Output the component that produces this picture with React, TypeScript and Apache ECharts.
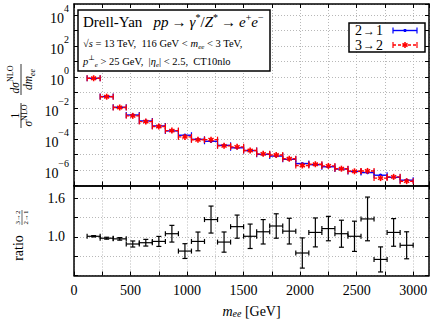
import React, { useEffect, useRef } from 'react';
import * as echarts from 'echarts';

// Bin edges in m_ee [GeV]
const binEdges = [116, 231.4, 346.7, 462.1, 577.4, 692.8, 808.2, 923.5, 1038.9, 1154.2, 1269.6, 1385, 1500.3, 1615.7, 1731, 1846.4, 1961.8, 2077.1, 2192.5, 2307.8, 2423.2, 2538.6, 2653.9, 2769.3, 2884.6, 3000];
// 1/sigma dsigma/dm_ee for the "2 -> 1" and "3 -> 2" results
const xsec21 = [0.81, 0.054, 0.011, 3.5e-3, 1.45e-3, 6.9e-4, 3.3e-4, 1.74e-4, 9.5e-5, 7.1e-5, 3.9e-5, 2.7e-5, 1.78e-5, 1.02e-5, 7.9e-6, 4.9e-6, 2.6e-6, 2.2e-6, 1.62e-6, 1.15e-6, 8.1e-7, 6.8e-7, 4.6e-7, 3.4e-7, 2.2e-7];
const xsec32 = [0.82, 0.053, 0.0107, 3.1e-3, 1.32e-3, 6.4e-4, 3.47e-4, 1.36e-4, 8.8e-5, 9.0e-5, 3.6e-5, 3.1e-5, 1.8e-5, 1.1e-5, 9.2e-6, 5.3e-6, 1.95e-6, 2.35e-6, 1.83e-6, 1.21e-6, 8.2e-7, 8.7e-7, 3.0e-7, 3.6e-7, 1.9e-7];
// ratio (3->2)/(2->1) and its uncertainty
const ratio = [1.01, 0.98, 0.97, 0.89, 0.91, 0.93, 1.05, 0.78, 0.93, 1.27, 0.92, 1.16, 1.01, 1.08, 1.17, 1.09, 0.75, 1.07, 1.13, 1.05, 1.01, 1.28, 0.65, 1.07, 0.87];
const ratioErr = [0.01, 0.015, 0.02, 0.047, 0.052, 0.078, 0.13, 0.115, 0.146, 0.21, 0.157, 0.18, 0.19, 0.19, 0.19, 0.2, 0.235, 0.225, 0.19, 0.21, 0.235, 0.34, 0.195, 0.215, 0.21];
// axis tick labels
const xLabels = [0, 500, 1000, 1500, 2000, 2500, 3000];
const yTopLabelExps = [-6, -4, -2, 0, 2, 4];
const yRatioLabels = [1.0, 1.6];

const SERIF = '"Liberation Serif", "DejaVu Serif", "Times New Roman", serif';
const BLUE = '#0000ff';
const RED = '#ff0000';

function asterisk(cx: number, cy: number, r: number, color: string) {
  const out: any[] = [];
  for (let k = 0; k < 3; k++) {
    const a = Math.PI / 2 + (k * Math.PI) / 3;
    out.push({
      type: 'line',
      shape: { x1: cx - r * Math.cos(a), y1: cy - r * Math.sin(a), x2: cx + r * Math.cos(a), y2: cy + r * Math.sin(a) },
      style: { stroke: color, lineWidth: 1.6 },
    });
  }
  return out;
}

function binMarks(a: number[], b: number[], color: string, dashed: boolean, star: boolean) {
  const xm = (a[0] + b[0]) / 2;
  const y = a[1];
  const children: any[] = [
    { type: 'line', shape: { x1: a[0], y1: y, x2: b[0], y2: y }, style: { stroke: color, lineWidth: 1.4, lineDash: dashed ? [3, 2] : null } },
    { type: 'line', shape: { x1: a[0], y1: y - 3, x2: a[0], y2: y + 3 }, style: { stroke: color, lineWidth: 1.2 } },
    { type: 'line', shape: { x1: b[0], y1: y - 3, x2: b[0], y2: y + 3 }, style: { stroke: color, lineWidth: 1.2 } },
  ];
  if (star) children.push(...asterisk(xm, y, 3, color));
  else children.push({ type: 'circle', shape: { cx: xm, cy: y, r: 1.6 }, style: { fill: color } });
  return children;
}

const topRender = (color: string, dashed: boolean, star: boolean) => (params: any, api: any) => {
  const x0 = api.value(0), x1 = api.value(1), y = api.value(2);
  const a = api.coord([x0, y]);
  const b = api.coord([x1, y]);
  return { type: 'group', children: binMarks(a, b, color, dashed, star) };
};

const ratioRender = (params: any, api: any) => {
  const x0 = api.value(0), x1 = api.value(1), r = api.value(2), lo = api.value(3), hi = api.value(4);
  const a = api.coord([x0, r]);
  const b = api.coord([x1, r]);
  const xm = (a[0] + b[0]) / 2;
  const pl = api.coord([(x0 + x1) / 2, lo]);
  const ph = api.coord([(x0 + x1) / 2, hi]);
  const st = { stroke: '#000', lineWidth: 1.2 };
  const c = 2.5;
  return {
    type: 'group',
    children: [
      { type: 'line', shape: { x1: a[0], y1: a[1], x2: b[0], y2: b[1] }, style: st },
      { type: 'line', shape: { x1: xm, y1: pl[1], x2: xm, y2: ph[1] }, style: st },
      { type: 'line', shape: { x1: a[0], y1: a[1] - c, x2: a[0], y2: a[1] + c }, style: st },
      { type: 'line', shape: { x1: b[0], y1: b[1] - c, x2: b[0], y2: b[1] + c }, style: st },
      { type: 'line', shape: { x1: xm - c, y1: pl[1], x2: xm + c, y2: pl[1] }, style: st },
      { type: 'line', shape: { x1: xm - c, y1: ph[1], x2: xm + c, y2: ph[1] }, style: st },
    ],
  };
};

function richSet(size: number, lhOverride?: number) {
  const lh = lhOverride ?? Math.round(size * 1.35);
  const s = Math.round(size * 0.68);
  return {
    r: { fontFamily: SERIF, fontSize: size, lineHeight: lh, verticalAlign: 'middle', fill: '#000', color: '#000' },
    ar: { fontFamily: SERIF, fontSize: size, lineHeight: lh, verticalAlign: 'middle', fill: '#000', color: '#000', padding: [0, 3, 0, 3] },
    la: { fontFamily: SERIF, fontSize: Math.round(size * 0.85), lineHeight: lh, verticalAlign: 'middle', fill: '#000', color: '#000', padding: [0, 1, 0, 1] },
    i: { fontFamily: SERIF, fontSize: size, fontStyle: 'italic', lineHeight: lh, verticalAlign: 'middle', fill: '#000', color: '#000' },
    sup: { fontFamily: SERIF, fontSize: s, lineHeight: s + 1, verticalAlign: 'top', fill: '#000', color: '#000' },
    isup: { fontFamily: SERIF, fontSize: s, fontStyle: 'italic', lineHeight: s + 1, verticalAlign: 'top', fill: '#000', color: '#000' },
    sub: { fontFamily: SERIF, fontSize: s, lineHeight: s + 1, verticalAlign: 'bottom', fill: '#000', color: '#000' },
    isub: { fontFamily: SERIF, fontSize: s, fontStyle: 'italic', lineHeight: s + 1, verticalAlign: 'bottom', fill: '#000', color: '#000' },
  };
}

function txt(x: number, y: number, text: string, size: number, align = 'left') {
  return {
    type: 'text',
    x,
    y,
    z: 110,
    style: {
      text,
      rich: richSet(size),
      font: `${size}px ${SERIF}`,
      fill: '#000',
      align,
      verticalAlign: 'middle',
      textAlign: align,
      textVerticalAlign: 'middle',
    },
  };
}

const withZ = (els: any[], z: number) => els.map((e) => ({ ...e, z }));

function buildOption() {
  const top21 = xsec21.map((v, i) => [binEdges[i], binEdges[i + 1], Math.log10(v)]);
  const top32 = xsec32.map((v, i) => [binEdges[i], binEdges[i + 1], Math.log10(v)]);
  const ratioData = ratio.map((r, i) => [binEdges[i], binEdges[i + 1], r, r - ratioErr[i], r + ratioErr[i]]);

  const axisLine = { show: true, onZero: false, lineStyle: { color: '#000', width: 1.5 } };
  const tick = { show: true, inside: true, length: 4, lineStyle: { color: '#000', width: 1 } };
  const grid = { show: true, lineStyle: { color: '#b8b8b8', width: 1, type: [1, 2] } };
  const noSplit = { show: false };
  const xBase = { type: 'value', min: 0, max: 3140, interval: 250 };

  const xLabelFmt = (v: number) => (xLabels.some((t) => Math.abs(t - v) < 1e-6) ? String(v) : '');
  const yTopFmt = (v: number) => {
    const n = Math.round(v);
    if (Math.abs(v - n) > 1e-6 || !yTopLabelExps.includes(n)) return '';
    return `{b|10}{s|${n < 0 ? '\u2212' + -n : n}}`;
  };
  const yRatioFmt = (v: number) => {
    const hit = yRatioLabels.find((t) => Math.abs(t - v) < 1e-6);
    return hit === undefined ? '' : hit.toFixed(1);
  };

  return {
    animation: false,
    backgroundColor: '#fff',
    grid: [
      { left: 74, right: 1, top: 4, height: 181.5, containLabel: false, outerBoundsMode: 'none' },
      { left: 74, right: 1, top: 185.5, height: 90, containLabel: false, outerBoundsMode: 'none' },
    ],
    xAxis: [
      { ...xBase, gridIndex: 0, position: 'bottom', axisLine, axisTick: tick, axisLabel: { show: false }, splitLine: grid },
      { ...xBase, gridIndex: 0, position: 'top', axisLine, axisTick: tick, axisLabel: { show: false }, splitLine: noSplit },
      {
        ...xBase, gridIndex: 1, position: 'bottom', axisLine, axisTick: tick, splitLine: grid,
        axisLabel: { show: true, formatter: xLabelFmt, fontFamily: SERIF, fontSize: 14, color: '#000', margin: 8, showMaxLabel: false },
        name: '{i|m}{isub|ee}{r| [GeV]}', nameLocation: 'middle', nameGap: 29,
        nameTextStyle: { fontFamily: SERIF, fontSize: 14, color: '#000', lineHeight: 14, rich: richSet(14, 14) },
      },
      { ...xBase, gridIndex: 1, position: 'top', axisLine, axisTick: tick, axisLabel: { show: false }, splitLine: noSplit },
    ],
    yAxis: [
      {
        type: 'value', gridIndex: 0, min: -7, max: 4.7, interval: 1, position: 'left', axisLine, axisTick: tick, splitLine: grid,
        axisLabel: {
          show: true, formatter: yTopFmt, margin: 5, color: '#000', showMaxLabel: false,
          rich: {
            b: { fontFamily: SERIF, fontSize: 14, lineHeight: 22, verticalAlign: 'bottom', color: '#000' },
            s: { fontFamily: SERIF, fontSize: 10, lineHeight: 12, verticalAlign: 'top', color: '#000' },
          },
        },
      },
      { type: 'value', gridIndex: 0, min: -7, max: 4.7, interval: 1, position: 'right', axisLine, axisTick: tick, axisLabel: { show: false }, splitLine: noSplit },
      {
        type: 'value', gridIndex: 1, min: 0.4, max: 1.8, interval: 0.3, position: 'left', axisLine, axisTick: tick, splitLine: grid,
        axisLabel: { show: true, formatter: yRatioFmt, fontFamily: SERIF, fontSize: 14, color: '#000', margin: 9 },
      },
      { type: 'value', gridIndex: 1, min: 0.4, max: 1.8, interval: 0.3, position: 'right', axisLine, axisTick: tick, axisLabel: { show: false }, splitLine: noSplit },
    ],
    series: [
      { type: 'custom', name: '2 → 1', xAxisIndex: 0, yAxisIndex: 0, data: top21, encode: { x: [0, 1], y: 2 }, renderItem: topRender(BLUE, false, false), z: 3 },
      { type: 'custom', name: '3 → 2', xAxisIndex: 0, yAxisIndex: 0, data: top32, encode: { x: [0, 1], y: 2 }, renderItem: topRender(RED, true, true), z: 4 },
      { type: 'custom', name: 'ratio', xAxisIndex: 2, yAxisIndex: 2, data: ratioData, encode: { x: [0, 1], y: [2, 3, 4] }, renderItem: ratioRender, z: 3 },
    ],
    graphic: [
      // info box
      { type: 'rect', z: 100, shape: { x: 78, y: 10, width: 192, height: 61 }, style: { fill: '#fff', stroke: '#000', lineWidth: 1.5 } },
      txt(83, 22, '{r|Drell-Yan}{r|   }{i|pp}{ar|\u2192}{i|\u03b3}{sup|*}{r|/}{i|Z}{sup|*}{ar|\u2192}{i|e}{sup|+}{i|e}{sup|\u2212}', 15),
      txt(83, 43, '{r|\u221a}{i|s}{r| = 13 TeV,  116 GeV < }{i|m}{isub|ee}{r| < 3 TeV,}', 10.5),
      txt(83, 61, '{i|p}{sup|\u22a5}{isub|e}{r| > 25 GeV,  |}{i|\u03b7}{isub|e}{r|| < 2.5,  CT10nlo}', 10.5),
      // legend box
      { type: 'rect', z: 100, shape: { x: 349, y: 23, width: 76, height: 29 }, style: { fill: '#fff', stroke: '#000', lineWidth: 1.5 } },
      txt(355, 30.5, '{r|2}{la|\u2192}{r|1}', 14),
      txt(355, 45, '{r|3}{la|\u2192}{r|2}', 14),
      ...withZ(binMarks([393, 30.5], [417, 30.5], BLUE, false, false), 111),
      ...withZ(binMarks([393, 45], [417, 45], RED, true, true), 111),
      // top y-axis title (rotated)
      {
        type: 'group', x: 21, y: 97, rotation: Math.PI / 2, z: 110,
        children: [
          { type: 'line', z: 110, shape: { x1: 2, y1: 0, x2: 33, y2: 0 }, style: { stroke: '#000', lineWidth: 0.8 } },
          txt(17.5, -6.5, '{i|d\u03c3}{sup|NLO}', 11.5, 'center'),
          txt(17.5, 7, '{i|dm}{isub|ee}', 11.5, 'center'),
          { type: 'line', z: 110, shape: { x1: -31, y1: 0, x2: -6, y2: 0 }, style: { stroke: '#000', lineWidth: 0.8 } },
          txt(-18.5, -6.5, '{r|1}', 11.5, 'center'),
          txt(-18.5, 7, '{i|\u03c3}{sup|NLO}', 11.5, 'center'),
        ],
      },
      // ratio y-axis title (rotated)
      {
        type: 'group', x: 22, y: 232, rotation: Math.PI / 2, z: 110,
        children: [
          txt(-16, -3.5, '{r|ratio}', 14, 'center'),
          { type: 'line', z: 110, shape: { x1: 7, y1: 0, x2: 22, y2: 0 }, style: { stroke: '#000', lineWidth: 0.6 } },
          txt(14.5, -3.8, '{r|3\u21922}', 7, 'center'),
          txt(14.5, 4, '{r|2\u21921}', 7, 'center'),
        ],
      },
    ],
  };
}

export default function App() {
  const ref = useRef<HTMLDivElement>(null);
  useEffect(() => {
    if (!ref.current) return;
    const chart = echarts.init(ref.current, null, { renderer: 'svg' });
    chart.setOption(buildOption() as any);
    return () => chart.dispose();
  }, []);
  return (
    <div
      ref={ref}
      style={{ position: 'absolute', left: 0, top: 0, width: 430, height: 320, background: '#fff' }}
    />
  );
}
